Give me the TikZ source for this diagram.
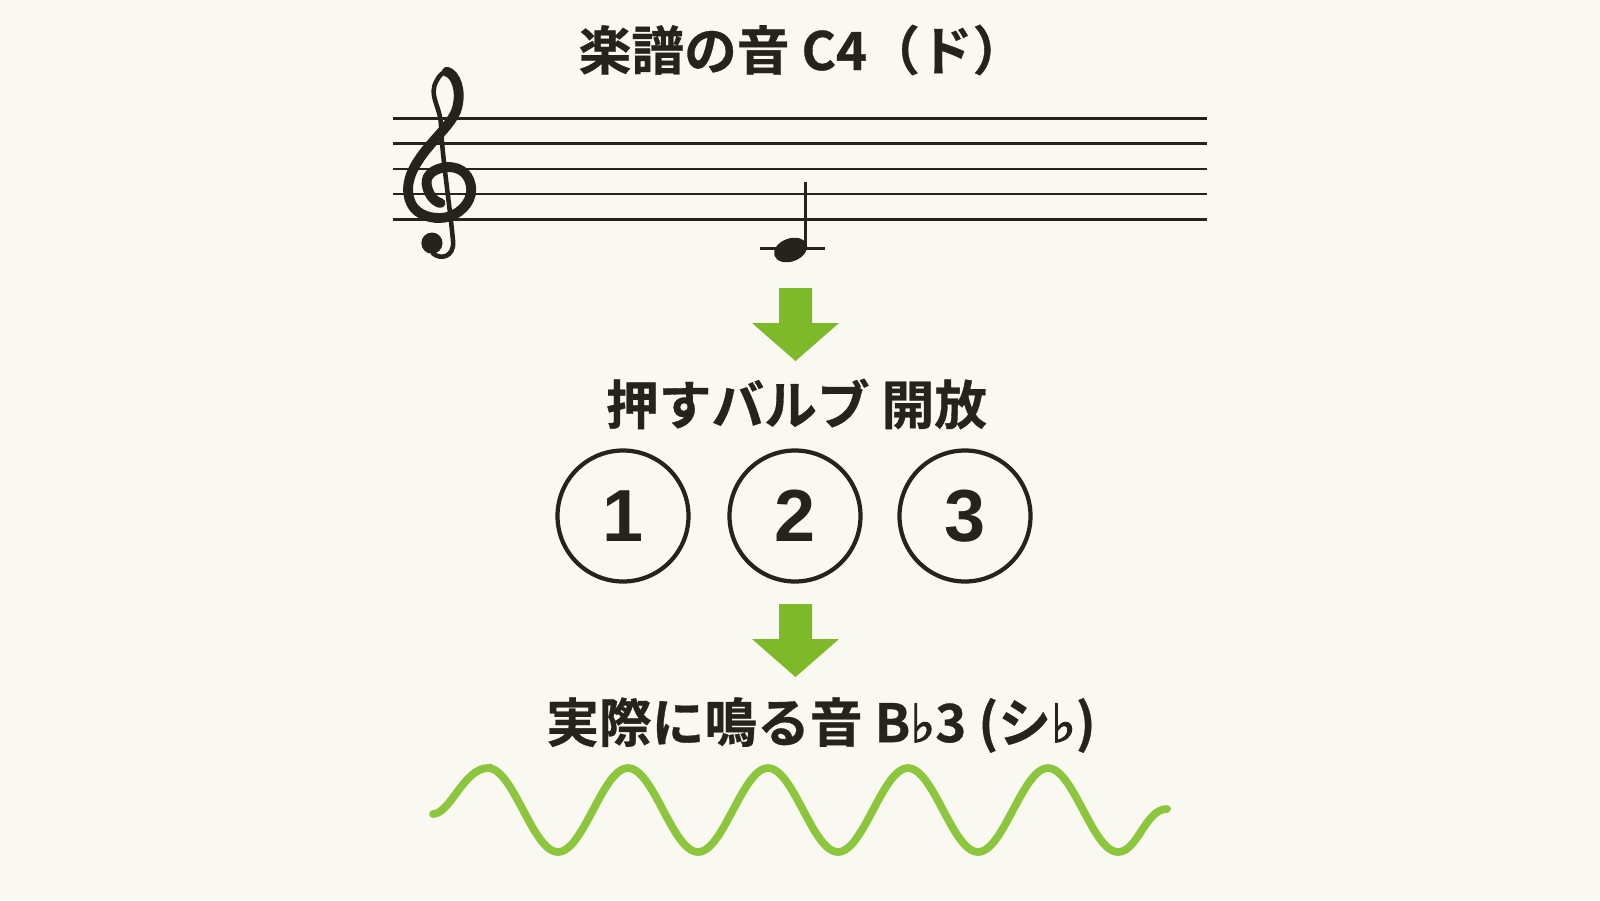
\documentclass[tikz,border=0pt]{standalone}
\usepackage{fontspec}
\newfontfamily\jpfont{Noto Sans CJK JP Bold}[FakeBold=0.6]
\newfontfamily\digitfont{Liberation Sans}
\newfontfamily\symfont{DejaVu Sans}[FakeBold=2.5]
\newcommand{\flatsign}{{\symfont ♭}}
\definecolor{bgcream}{HTML}{FAF9F1}
\definecolor{inkdark}{HTML}{24241C}
\definecolor{arrowgreen}{HTML}{7DB928}
\definecolor{wavegreen}{HTML}{8CC63C}
\tikzset{
  heading/.style={text=inkdark, inner sep=0pt, font=\jpfont\fontsize{15}{17}\selectfont},
  staffline/.style={inkdark, line width=0.7pt},
  valve/.style={circle, draw=inkdark, line width=1.2pt, minimum size=1.31cm, inner sep=0pt,
    text=inkdark, font=\digitfont\bfseries\fontsize{21}{25}\selectfont},
  clefline/.style={inkdark, line cap=round},
}
\begin{document}
\begin{tikzpicture}
\fill[bgcream] (0,0) rectangle (16,9);

% staff
\foreach \i in {0,...,4}
  \draw[staffline] (3.93,6.806+0.2525*\i) -- (12.07,6.806+0.2525*\i);

% treble clef
\begin{scope}[shift={(4.38,7.0585)}, x=0.2525cm, y=0.2525cm]
\fill[inkdark] (-0.24,-1.94) circle (0.42);
\draw[clefline, line width=1.3pt] (-0.2,-2.35) .. controls (0.1,-2.6) and (0.62,-2.5) .. (0.6,-1.9)
  .. controls (0.45,-0.3) and (0.15,1.6) .. (0.12,2.7)
  .. controls (0.1,3.5) and (-0.4,3.9) .. (-0.05,4.5)
  .. controls (0.05,4.7) and (0.2,4.85) .. (0.35,4.85);
\draw[clefline, line width=2.8pt] (0.35,4.85) .. controls (0.7,4.75) and (0.95,4.1) .. (0.75,3.4)
  .. controls (0.6,2.8) and (-0.3,2.1) .. (-0.8,1.3)
  .. controls (-1.2,0.7) and (-1.35,0.0) .. (-0.95,-0.55)
  .. controls (-0.6,-0.95) and (0.0,-1.0) .. (0.4,-0.9)
  .. controls (1.05,-0.7) and (1.4,-0.15) .. (1.3,0.35)
  .. controls (1.2,0.9) and (0.75,1.1) .. (0.35,1.07)
  .. controls (-0.1,1.03) and (-0.5,0.8) .. (-0.45,0.4)
  .. controls (-0.4,0.0) and (-0.15,-0.3) .. (0.1,-0.35);
\end{scope}

% note C4
\draw[staffline] (7.60,6.515) -- (8.25,6.515);
\fill[inkdark, rotate around={20:(7.905,6.50)}] (7.905,6.50) ellipse (0.17 and 0.115);
\draw[inkdark, line width=0.9pt] (8.055,6.53) -- (8.055,7.18);

\node[heading] (scoretitle) at (8.02,8.50) {楽譜の音 C4（ド）};

% arrows
\foreach \t in {6.12,2.96}
  \fill[arrowgreen] (7.79,\t) -- (8.12,\t) -- (8.12,\t-0.35) -- (8.39,\t-0.35)
    -- (7.955,\t-0.73) -- (7.52,\t-0.35) -- (7.79,\t-0.35) -- cycle;

\node[heading] (valvetitle) at (7.965,4.96) {押すバルブ 開放};
\foreach \n/\x in {1/6.23,2/7.95,3/9.65}
  \node[valve] (valve\n) at (\x,3.84) {\n};

\node[heading] (soundtitle) at (8.21,1.75) {実際に鳴る音 B\flatsign3 (シ\flatsign)};

% sound wave
\draw[wavegreen, line width=2.2pt, line cap=round] (4.33,0.86) .. controls (4.5,0.86) and (4.64,1.32) .. (4.88,1.32)
  -- plot[domain=4.88:11.18, samples=181] (\x,{0.90+0.42*cos(360*(\x-4.88)/1.40)})
  .. controls (11.38,0.48) and (11.45,0.91) .. (11.67,0.91);
\end{tikzpicture}
\end{document}
